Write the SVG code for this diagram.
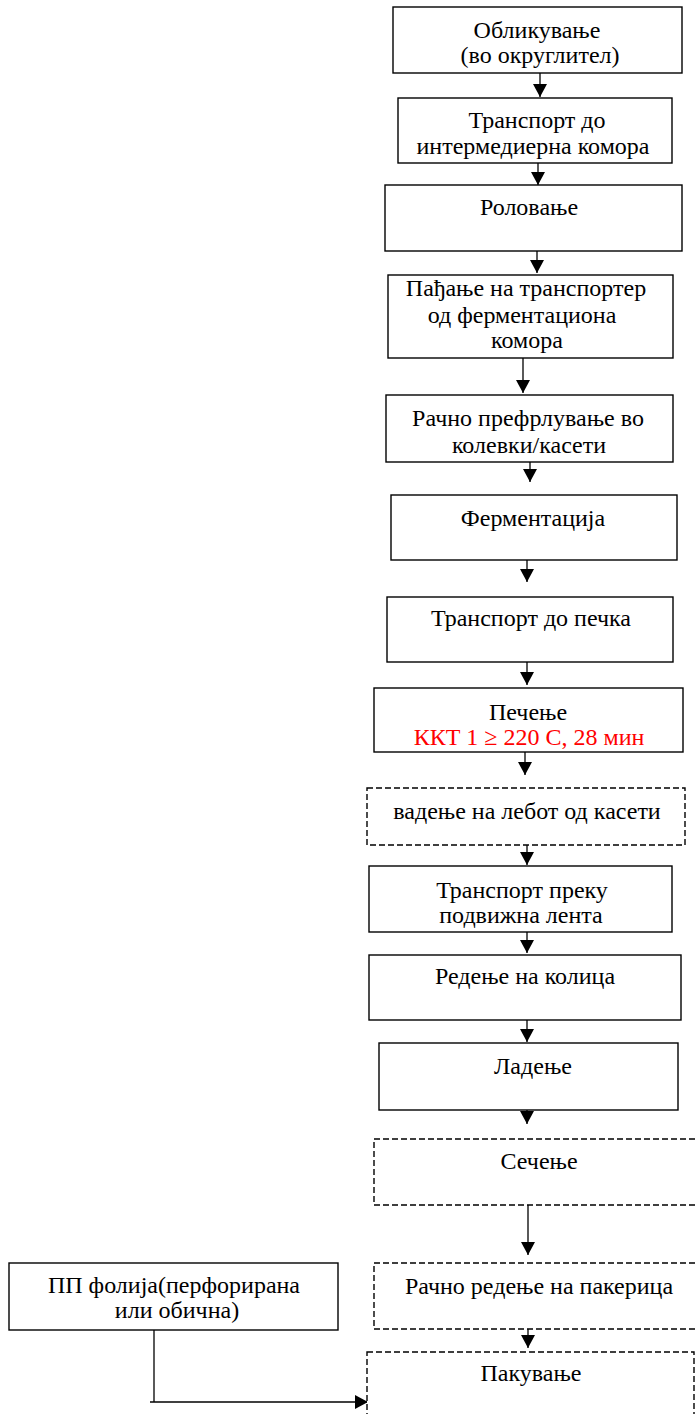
<svg xmlns="http://www.w3.org/2000/svg" width="695" height="1414" viewBox="0 0 695 1414">
<style>
.box{fill:#fff;stroke:#000;stroke-width:1.4}
.dash{fill:#fff;stroke:#000;stroke-width:1.4;stroke-dasharray:6 3}
.t{font-family:"Liberation Serif","Times New Roman",serif;font-size:24px;fill:#000;text-anchor:middle}
.red{fill:#ff0000}
.c{stroke:#000;stroke-width:1.3;fill:none}
</style>
<defs>
<marker id="ah" markerUnits="userSpaceOnUse" markerWidth="13" markerHeight="14" refX="13" refY="7" orient="auto" viewBox="0 0 13 14">
<path d="M0,0 L13,7 L0,14 Z" fill="#000"/>
</marker>
</defs>
<rect width="695" height="1414" fill="#fff"/>
<g id="connectors">
<line class="c" x1="540" y1="73" x2="540" y2="97" marker-end="url(#ah)"/>
<line class="c" x1="538" y1="163" x2="538" y2="185" marker-end="url(#ah)"/>
<line class="c" x1="537" y1="251" x2="537" y2="273" marker-end="url(#ah)"/>
<line class="c" x1="523" y1="358" x2="523" y2="393" marker-end="url(#ah)"/>
<line class="c" x1="530" y1="462" x2="530" y2="482" marker-end="url(#ah)"/>
<line class="c" x1="527" y1="560" x2="527" y2="582" marker-end="url(#ah)"/>
<line class="c" x1="527" y1="662" x2="527" y2="685" marker-end="url(#ah)"/>
<line class="c" x1="525" y1="752" x2="525" y2="775" marker-end="url(#ah)"/>
<line class="c" x1="527" y1="845" x2="527" y2="865" marker-end="url(#ah)"/>
<line class="c" x1="527" y1="932" x2="527" y2="953" marker-end="url(#ah)"/>
<line class="c" x1="527" y1="1020" x2="527" y2="1042" marker-end="url(#ah)"/>
<line class="c" x1="527" y1="1110" x2="527" y2="1124" marker-end="url(#ah)"/>
<line class="c" x1="528" y1="1205" x2="528" y2="1255" marker-end="url(#ah)"/>
<line class="c" x1="528" y1="1328" x2="528" y2="1348" marker-end="url(#ah)"/>
<line class="c" x1="154" y1="1330" x2="154" y2="1402"/>
<line class="c" x1="150" y1="1402" x2="368" y2="1402" marker-end="url(#ah)"/>
</g>
<g id="n1"><rect class="box" x="393" y="7" width="289" height="66"/>
<text class="t" x="537" y="38">Обликување</text><text class="t" x="540" y="63">(во округлител)</text></g>
<g id="n2"><rect class="box" x="398" y="98" width="274" height="65"/>
<text class="t" x="537" y="128">Транспорт до</text><text class="t" x="533" y="154">интермедиерна комора</text></g>
<g id="n3"><rect class="box" x="385" y="185" width="297" height="66"/>
<text class="t" x="529" y="215">Роловање</text></g>
<g id="n4"><rect class="box" x="388" y="275" width="285" height="83"/>
<text class="t" x="526" y="296">Пађање на транспортер</text><text class="t" x="522" y="323">од ферментациона</text><text class="t" x="527" y="348">комора</text></g>
<g id="n5"><rect class="box" x="386" y="395" width="287" height="67"/>
<text class="t" x="528" y="426">Рачно префрлување во</text><text class="t" x="529" y="453">колевки/касети</text></g>
<g id="n6"><rect class="box" x="391" y="495" width="286" height="65"/>
<text class="t" x="533" y="526">Ферментација</text></g>
<g id="n7"><rect class="box" x="387" y="597" width="286" height="65"/>
<text class="t" x="531" y="626">Транспорт до печка</text></g>
<g id="n8"><rect class="box" x="374" y="688" width="309" height="64"/>
<text class="t" x="528" y="720">Печење</text><text class="t red" x="529" y="745">ККТ 1 ≥ 220 С, 28 мин</text></g>
<g id="n9"><rect class="dash" x="367" y="788" width="318" height="57"/>
<text class="t" x="527" y="819">вадење на лебот од касети</text></g>
<g id="n10"><rect class="box" x="369" y="866" width="303" height="66"/>
<text class="t" x="522" y="898">Транспорт преку</text><text class="t" x="521" y="923">подвижна лента</text></g>
<g id="n11"><rect class="box" x="369" y="955" width="312" height="65"/>
<text class="t" x="525" y="984">Редење на колица</text></g>
<g id="n12"><rect class="box" x="379" y="1043" width="299" height="67"/>
<text class="t" x="533" y="1074">Ладење</text></g>
<g id="n13"><rect class="dash" x="374" y="1139" width="330" height="66"/>
<text class="t" x="539" y="1169">Сечење</text></g>
<g id="n14"><rect class="dash" x="374" y="1263" width="330" height="66"/>
<text class="t" x="539" y="1294">Рачно редење на пакерица</text></g>
<g id="n15"><rect class="dash" x="367" y="1352" width="327" height="80"/>
<text class="t" x="531" y="1381">Пакување</text></g>
<g id="n16"><rect class="box" x="9" y="1263" width="329" height="67"/>
<text class="t" x="174" y="1293">ПП фолија(перфорирана</text><text class="t" x="177" y="1318">или обична)</text></g>
</svg>
